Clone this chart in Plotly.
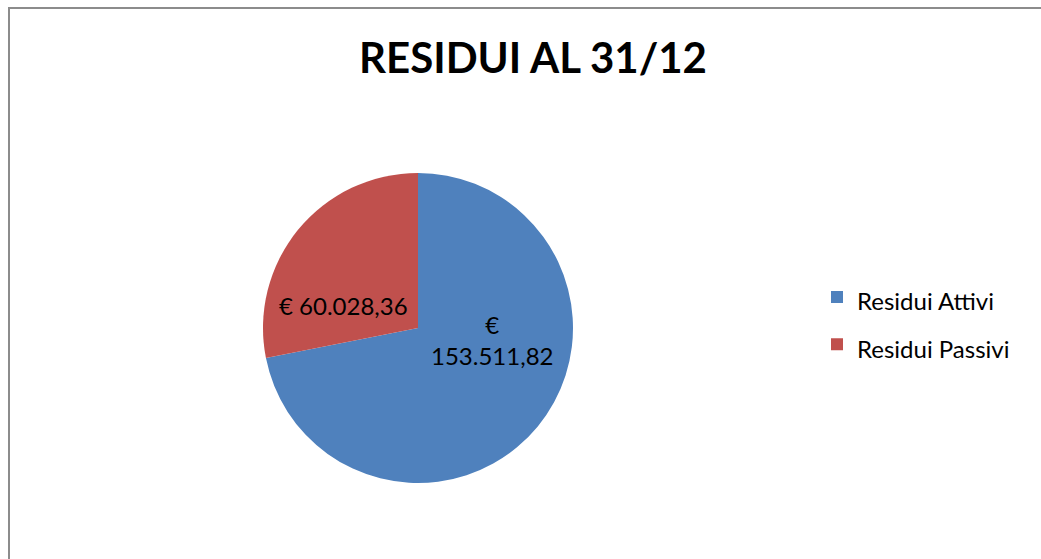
import plotly.graph_objects as go

labels = ["Residui Attivi", "Residui Passivi"]
values = [153511.82, 60028.36]
text_labels = ["€<br>153.511,82", "€ 60.028,36"]
colors = ["#4F81BD", "#C0504D"]
title_text = "RESIDUI AL 31/12"

W, H = 1041, 559
cx, cy, r = 418, 328, 155
# label anchor points (pixels) for each slice
label_px = [(492, 340), (343, 305)]

legend_labels = ["<span style='font-size:24px'>%s</span>" % l for l in labels]

fig = go.Figure(go.Pie(
    labels=legend_labels,
    values=values,
    textinfo="none",
    marker=dict(colors=colors, line=dict(color="#FFFFFF", width=0)),
    sort=False,
    direction="clockwise",
    rotation=0,
    hoverinfo="value",
    domain=dict(x=[(cx - r) / W, (cx + r) / W], y=[1 - (cy + r) / H, 1 - (cy - r) / H]),
))

annotations = []
for txt, (px, py) in zip(text_labels, label_px):
    annotations.append(dict(text=txt, x=px / W, y=1 - py / H, xref="paper", yref="paper",
                            xanchor="center", yanchor="middle", showarrow=False,
                            font=dict(family="Lato", size=24, color="#000000")))

fig.update_layout(
    width=W, height=H,
    margin=dict(l=0, r=0, t=0, b=0),
    paper_bgcolor="#FFFFFF",
    plot_bgcolor="#FFFFFF",
    font=dict(family="Lato", color="#000000"),
    title=dict(text="<b>" + title_text + "</b>", x=533 / W, y=1 - 58 / H,
               xanchor="center", yanchor="middle",
               font=dict(family="Lato", size=42, color="#000000")),
    legend=dict(x=817 / W, y=1 - 321 / H, xanchor="left", yanchor="middle",
                font=dict(family="Lato", size=34, color="#000000")),
    annotations=annotations,
    shapes=[dict(type="rect", xref="paper", yref="paper",
                 x0=9 / W, y0=-0.05, x1=1.05, y1=1 - 8 / H,
                 line=dict(color="#8C8C8C", width=2), fillcolor="rgba(0,0,0,0)",
                 layer="below")],
)

fig.write_html("out.html", config={"displayModeBar": False},
               post_script="document.body.style.margin='0';document.body.style.overflow='hidden';")
